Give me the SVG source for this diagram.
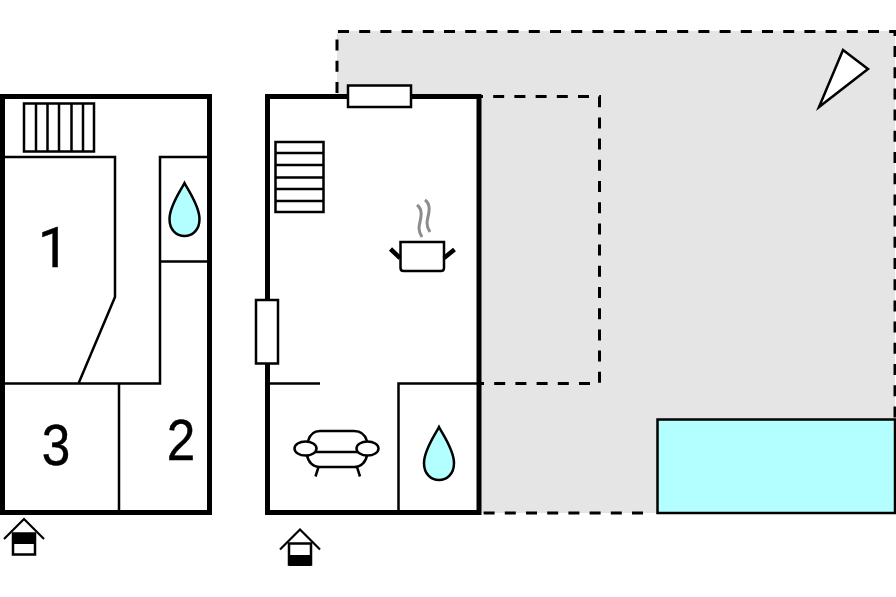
<svg xmlns="http://www.w3.org/2000/svg" width="896" height="597" viewBox="0 0 896 597">
<style>
.wall{fill:none;stroke:#000;stroke-width:5}
.in{fill:none;stroke:#000;stroke-width:2.500}
.box{fill:#fff;stroke:#000;stroke-width:2.500}
.dash{fill:none;stroke:#000;stroke-width:3;stroke-dasharray:11 10.200}
.water{fill:#b3ffff;stroke:#000;stroke-width:2.500}
.num{font-family:"Liberation Sans",Arial,sans-serif;font-size:57px;fill:#000;stroke:#000;stroke-width:.4;text-anchor:middle}
.roof{fill:none;stroke:#000;stroke-width:2.200}
</style>
<defs>
<path id="drop" d="M0 0C-4 8-15 23-15 36C-15 47-8 53 0 53C8 53 15 47 15 36C15 23 4 8 0 0Z"/>
</defs>
<g id="terrace">
<path d="M337 31H895V513H480V96H337Z" fill="#e5e5e5"/>
<path d="M337 93V31" class="dash"/>
<path d="M338 31.500H895V36" class="dash"/>
<path d="M895 46V419" class="dash"/>
<path d="M472 96.500H599.500V383.500H478" class="dash"/>
<path d="M643 513H480" class="dash"/>
</g>
<g id="pool"><rect x="657.500" y="419.500" width="237.500" height="93.500" class="water"/></g>
<g id="compass"><path d="M843 50L868 69L819 107Z" class="box"/></g>
<g id="left-plan">
<rect x="2.500" y="96.500" width="207" height="416" fill="#fff" class="wall"/>
<path d="M3 157H115V297L78.500 383.500M3 383.500H160V157H208M160 261.500H208M119 383.500V512" class="in"/>
<g id="left-stairs"><rect x="24" y="103.500" width="70" height="48" class="box"/><path d="M36 104V151M47.500 104V151M59 104V151M71.500 104V151M83 104V151" class="in"/></g>
<use href="#drop" x="184.500" y="183" class="water"/>
<text class="num" style="font-family:Roboto,sans-serif;font-size:56px" transform="translate(53.500 267)">1</text>
<text class="num" transform="translate(181 460) scale(.9 1)">2</text>
<text class="num" transform="translate(56 464.500) scale(.9 1)">3</text>
</g>
<g id="left-entrance">
<rect x="13" y="533.500" width="22" height="21" class="box"/>
<rect x="13" y="533" width="22" height="11"/>
<path d="M4 539L24 519L44 539" class="roof"/>
</g>
<g id="right-plan">
<rect x="267.500" y="96.500" width="211.500" height="416" fill="#fff" class="wall"/>
<path d="M270 383.500H320M478 383.500H398.500V511" class="in"/>
<rect x="348" y="85.500" width="63" height="21.500" class="box"/>
<rect x="256" y="300" width="22" height="63.500" class="box"/>
<g id="right-stairs"><rect x="275.500" y="142" width="48" height="70" class="box"/><path d="M276 153H323M276 165H323M276 177.500H323M276 189H323M276 201H323" class="in"/></g>
<g id="pot">
<path d="M400.500 242H444V268Q444 271 441 271H403.500Q400.500 271 400.500 268Z" class="box"/>
<path d="M400 258L390.500 249M444 258L454.500 249.500" fill="none" stroke="#000" stroke-width="4.500"/>
<path d="M417 205C425 211 419 222 419 228C419 232 420 234 422 237M425 200C433 206 427 217 427 223C427 227 428 229 430 232" fill="none" stroke="#8c8c8c" stroke-width="3"/>
</g>
<g id="sofa">
<path d="M308 441C310 434 314 431 320 431H354C360 431 365 434 367 441M307 455C308 462 313 467 320 467H354C361 467 366 462 367 455M315.500 476.500L318.500 467M360 476.500L357 467M315 452H358" class="in"/>
<ellipse cx="305.500" cy="448.500" rx="11" ry="7" class="box"/>
<ellipse cx="367.500" cy="448.500" rx="11" ry="7" class="box"/>
</g>
<use href="#drop" x="439" y="427" class="water"/>
</g>
<g id="right-entrance">
<rect x="289" y="543.500" width="22" height="21" class="box"/>
<rect x="289" y="555" width="22" height="11"/>
<path d="M280 549.500L300 529.500L320 549.500" class="roof"/>
</g>
</svg>
